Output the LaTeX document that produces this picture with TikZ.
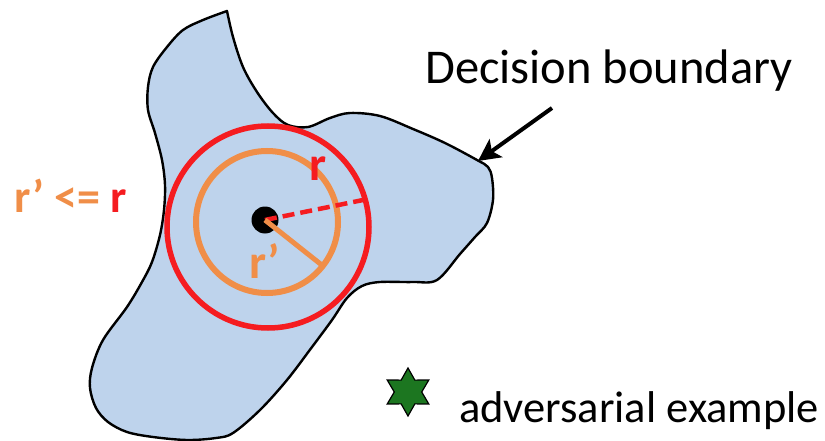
\documentclass[tikz,border=0pt]{standalone}
\usepackage{fontspec}
\setmainfont{Carlito}
\usetikzlibrary{arrows.meta,shapes.geometric}
\definecolor{blobblue}{RGB}{190,211,236}
\definecolor{rred}{RGB}{245,28,32}
\definecolor{rorange}{RGB}{240,142,72}
\definecolor{sgreen}{RGB}{28,118,32}
\begin{document}
\begin{tikzpicture}[x=1pt,y=-1pt,
  lbl/.style={inner sep=0pt},
  bigbold/.style={inner sep=0pt,font=\fontsize{46}{50}\selectfont\bfseries}]
\useasboundingbox (0,0) rectangle (825,441);
% blob
\filldraw[fill=blobblue,draw=black,line width=2.4pt,line join=round]
  plot[smooth,tension=0.55] coordinates {
  (227,11) (233,37) (243,67) (257,92) (273,113) (288,125) (308,127) (330,118)
  (350,113) (380,116) (413,129) (445,143) (477,160) (488,167) (492,178) (493,200)
  (487,223) (475,237) (460,254) (437,280) (413,282) (380,282) (362,286) (347,298)
  (332,320) (312,347) (287,380) (260,410) (233,433) (216,438) (187,440) (153,437)
  (127,432) (108,422) (96,408) (90,388) (92,368) (103,340) (127,307) (142,282)
  (152,262) (160,235) (164,210) (165,185) (162,160) (155,133) (148,110) (148,87)
  (153,67) (167,47) (183,30) (203,20) (227,11)} -- cycle;
% center point
\node[circle,fill=black,inner sep=0pt,minimum size=27pt] (c) at (265,220) {};
\coordinate (rc) at (268,227);
\coordinate (oc) at (267,222);
\draw[rred,line width=5.5pt] (rc) circle[radius=101];
\draw[rorange,line width=6pt] (oc) circle[radius=71];
\coordinate (rend) at (368,199);
\coordinate (oend) at (323,266);
\draw[rred,line width=4.5pt,dash pattern=on 12pt off 6pt] (c.center) -- (rend);
\draw[rorange,line width=5pt] (c.center) -- (oend);
% labels
\node[bigbold,text=rred,anchor=base west,font=\fontsize{48}{52}\selectfont\bfseries] (rlab) at (309,180) {r};
\node[bigbold,text=rorange,anchor=base west,font=\fontsize{48}{52}\selectfont\bfseries] (rplab) at (249,278) {r’};
\node[bigbold,anchor=base west] (cmp) at (14,212) {\textcolor{rorange}{r’ <=} \textcolor{rred}{r}};
% decision boundary
\node[lbl,anchor=base west,font=\fontsize{48.5}{52}\selectfont] (dec) at (425,84) {Decision boundary};
\coordinate (astart) at (552,108);
\coordinate (aend) at (478,161);
\draw[line width=4pt,-{Stealth[length=22pt,width=22pt,inset=5pt]}] (astart) -- (aend);
% adversarial example
\node[star,star points=6,star point ratio=1.75,draw=black,line width=1.2pt,fill=sgreen,
  minimum size=48pt,inner sep=0pt] (star) at (408,392) {};
\node[lbl,anchor=base west,font=\fontsize{44.5}{48}\selectfont] (adv) at (459,422) {adversarial example};
\end{tikzpicture}
\end{document}
